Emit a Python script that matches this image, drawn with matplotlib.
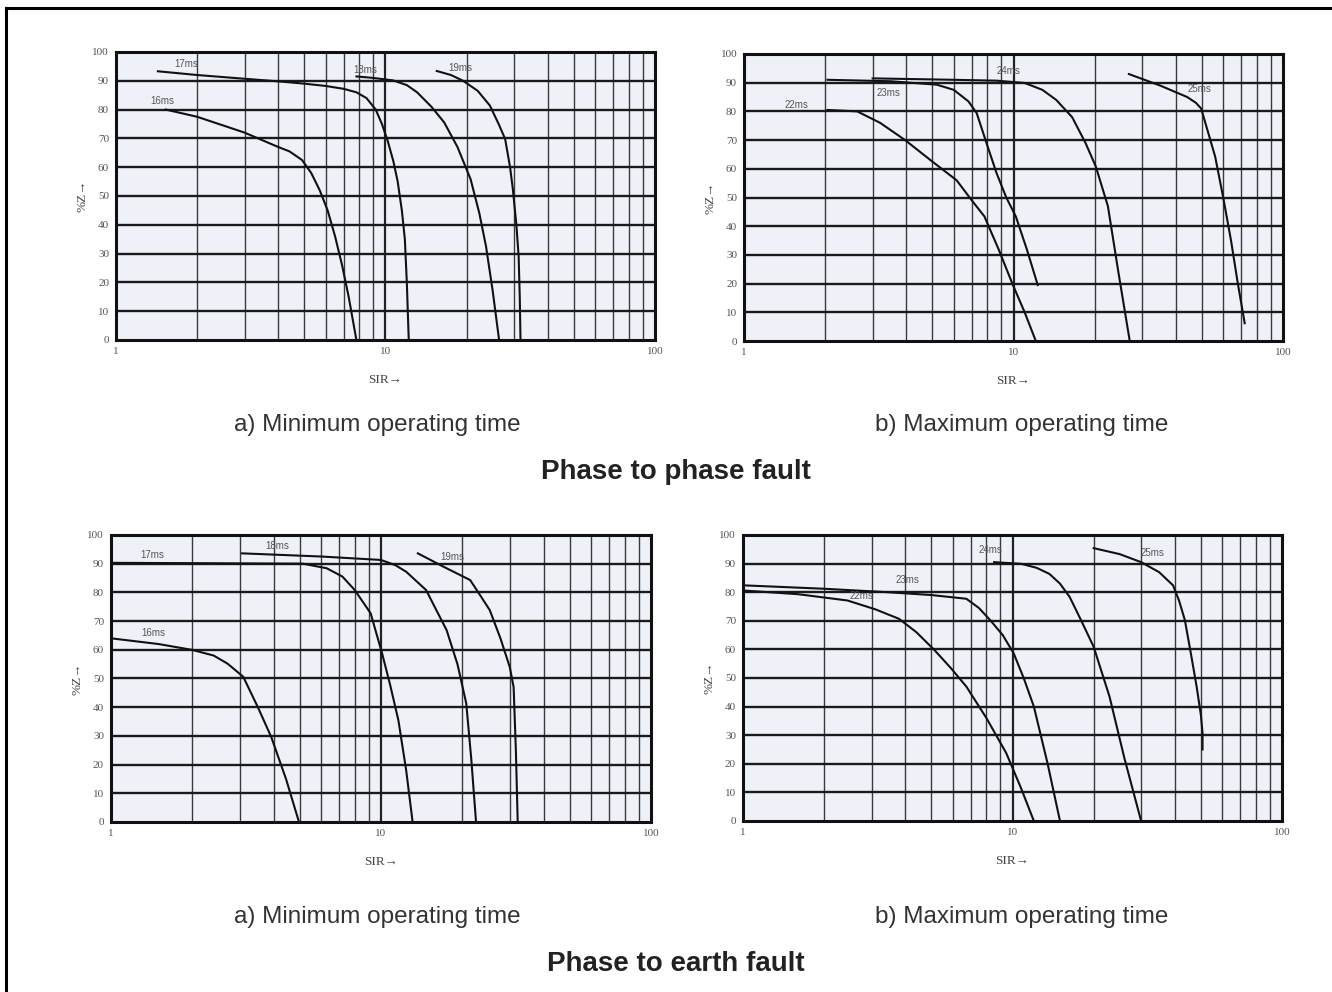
# Relay operating time characteristics (%Z vs SIR), four panels
import matplotlib
matplotlib.use("Agg")
from matplotlib import pyplot as plt
from matplotlib.lines import Line2D

# Data: SIR (x, log scale) and %Z (y)

# a) phase to phase, minimum operating time
pp_min_16_x = [1.53, 2, 3, 4, 4.4, 4.9, 5.3, 5.7, 6.1, 6.5, 6.9, 7.3, 7.8]
pp_min_16_y = [80, 77.5, 72, 67, 65.5, 62.5, 58, 52, 45, 36, 26, 15, 0]
pp_min_17_x = [1.43, 2, 3, 4, 5, 6, 7, 7.8, 8.5, 9.2, 9.7, 10.2, 10.7, 11.1, 11.5, 11.8, 12.0, 12.2]
pp_min_17_y = [93.3, 92, 90.7, 89.8, 89, 88.2, 87.2, 86, 84, 80, 75, 69, 62, 55, 45, 35, 20, 0]
pp_min_18_x = [7.8, 9, 10.7, 12, 13.1, 14.8, 16.5, 18.5, 20.7, 22.3, 23.6, 25, 26.4]
pp_min_18_y = [91.5, 91, 90.1, 88.5, 86, 81, 75.6, 67, 55.8, 44, 32.6, 17, 0]
pp_min_19_x = [15.5, 17.5, 19.4, 22, 24.4, 26.3, 27.8, 29, 29.7, 30.6, 31.2, 31.5, 31.7]
pp_min_19_y = [93.4, 92, 90, 86.5, 81.4, 75, 69.8, 60, 52.3, 40, 29, 15, 0]

# b) phase to phase, maximum operating time
pp_max_22_x = [2.04, 2.63, 3.2, 3.96, 5, 6.15, 7, 7.8, 8.8, 9.9, 11, 12.1]
pp_max_22_y = [80.5, 80, 76, 70, 62.5, 56, 49, 43.4, 32, 20, 10, 0]
pp_max_23_x = [2.04, 3.5, 5.19, 6, 6.8, 7.3, 8, 8.65, 9.4, 10.2, 11.2, 12.3]
pp_max_23_y = [91, 90.5, 89.3, 87.5, 83.5, 79.4, 68, 58.5, 50, 43.4, 32, 19.5]
pp_max_24_x = [3, 6, 8.65, 11, 12.8, 14.4, 16.5, 18.5, 20.2, 22.4, 24.5, 27]
pp_max_24_y = [91.5, 91, 90.7, 89.9, 87.5, 84, 78, 69, 60.8, 47, 24, 0]
pp_max_25_x = [26.8, 35, 44.1, 47.5, 49.7, 53, 56, 60, 64.1, 68, 72.1]
pp_max_25_y = [93, 89, 85, 83, 81, 72, 64.3, 50, 35.2, 20, 6.2]

# a) phase to earth, minimum operating time
pe_min_16_x = [1, 1.5, 1.99, 2.4, 2.7, 3.09, 3.5, 3.92, 4.45, 4.97]
pe_min_16_y = [64, 62, 60, 58, 55.2, 50.6, 40, 29.7, 15, 0]
pe_min_17_x = [1, 5.14, 6.3, 7.2, 8.0, 9.16, 10.1, 10.8, 11.6, 12.4, 13.1]
pe_min_17_y = [90.3, 90, 88.4, 85.5, 80.8, 72.7, 58.7, 48, 35.5, 18, 0]
pe_min_18_x = [3.06, 6, 10, 11.3, 12.4, 14.7, 16, 17.5, 19.2, 20.7, 21.6, 22.5]
pe_min_18_y = [93.6, 92.5, 91.3, 89.5, 87.2, 80.8, 74, 66.9, 55, 41.3, 22, 0]
pe_min_19_x = [13.7, 17, 21.4, 23.3, 25.3, 27.7, 30, 31, 31.6, 32.1]
pe_min_19_y = [93.6, 89, 84.3, 79, 73.8, 64, 54, 47, 25, 0]

# b) phase to earth, maximum operating time
pe_max_22_x = [1, 1.6, 2.44, 3.1, 3.79, 4.4, 5.14, 5.9, 6.74, 8, 9.47, 10.7, 12]
pe_max_22_y = [80.6, 79.3, 77.1, 74, 70.7, 66, 59.7, 53.5, 47, 36, 23.8, 12, 0]
pe_max_23_x = [1, 2, 3.43, 5, 6.74, 7.5, 8.27, 9.2, 10.1, 11, 12, 13.5, 15]
pe_max_23_y = [82.4, 81.2, 80, 79, 77.7, 74.5, 70.2, 65, 58.6, 50, 40, 20, 0]
pe_max_24_x = [8.55, 10.8, 12.3, 13.7, 15, 16.3, 18, 20, 22.9, 26, 30]
pe_max_24_y = [90.5, 89.9, 88.5, 86.4, 83, 78.3, 70, 60.9, 43.5, 22, 0]
pe_max_25_x = [20, 25, 30, 35, 39.4, 41.5, 43.6, 46, 48.2, 50, 50.7, 50.7]
pe_max_25_y = [95.4, 93.3, 90.5, 87, 82.4, 77, 70.2, 58, 47, 37, 30.7, 25]

# curve labels: text, x, y
pp_min_labels = [("17ms", 1.82, 95.8), ("16ms", 1.48, 83), ("18ms", 8.4, 93.8), ("19ms", 18.9, 94.4)]
pp_max_labels = [("22ms", 1.57, 82.3), ("23ms", 3.45, 86.4), ("24ms", 9.6, 94), ("25ms", 48.8, 87.8)]
pe_min_labels = [("17ms", 1.42, 93), ("16ms", 1.43, 65.9), ("18ms", 4.13, 96.2), ("19ms", 18.3, 92.3)]
pe_max_labels = [("24ms", 8.3, 94.7), ("23ms", 4.06, 84.3), ("22ms", 2.76, 78.7), ("25ms", 33.1, 93.7)]

x_ticks = [1, 10, 100]
x_tick_labels = ["1", "10", "100"]
y_ticks = [0, 10, 20, 30, 40, 50, 60, 70, 80, 90, 100]
minor_x = [2, 3, 4, 5, 6, 7, 8, 9, 20, 30, 40, 50, 60, 70, 80, 90]

fig = plt.figure(figsize=(13.32, 9.92), dpi=100)
fig.patch.set_facecolor("white")

# outer frame (top and left visible)
fig.add_artist(Line2D([0.0045, 1.0], [0.992, 0.992], color="black", lw=2.2, transform=fig.transFigure))
fig.add_artist(Line2D([0.0045, 0.0045], [0.0, 0.992], color="black", lw=2.2, transform=fig.transFigure))


def draw_panel(rect, curves, labels):
    ax = fig.add_axes(rect)
    ax.set_facecolor("#eef2f8")
    ax.set_xscale("log")
    ax.set_xlim(1, 100)
    ax.set_ylim(0, 100)

    for v in minor_x:
        ax.axvline(v, color="#3a3a3a", lw=1.0, zorder=1)
    ax.axvline(10, color="#222222", lw=1.6, zorder=1)
    for v in y_ticks[1:-1]:
        ax.axhline(v, color="#1a1a1a", lw=1.7, zorder=1)

    for xs, ys in curves:
        ax.plot(xs, ys, color="#111111", lw=1.5, zorder=3, solid_joinstyle="round")
    for text, lx, ly in labels:
        ax.text(lx, ly, text, fontsize=7, color="#555555", ha="center", va="center",
                family="Liberation Sans", zorder=4)

    ax.set_xticks(x_ticks)
    ax.set_xticklabels(x_tick_labels)
    ax.xaxis.set_minor_locator(matplotlib.ticker.NullLocator())
    ax.set_yticks(y_ticks)
    ax.tick_params(length=0, labelsize=8, labelcolor="#555555", pad=5)
    for lab in ax.get_xticklabels() + ax.get_yticklabels():
        lab.set_family("Liberation Serif")
    for s in ax.spines.values():
        s.set_linewidth(2.2)
        s.set_color("#111111")
    ax.set_xlabel("SIR→", fontsize=9.5, color="#444444", family="Liberation Serif", labelpad=13)
    ax.set_ylabel("%Z→", fontsize=9.5, color="#444444", family="Liberation Serif", labelpad=3)
    return ax


draw_panel([0.0871, 0.6573, 0.4046, 0.2903],
           [(pp_min_16_x, pp_min_16_y), (pp_min_17_x, pp_min_17_y),
            (pp_min_18_x, pp_min_18_y), (pp_min_19_x, pp_min_19_y)], pp_min_labels)
draw_panel([0.5586, 0.6562, 0.4046, 0.2894],
           [(pp_max_22_x, pp_max_22_y), (pp_max_23_x, pp_max_23_y),
            (pp_max_24_x, pp_max_24_y), (pp_max_25_x, pp_max_25_y)], pp_max_labels)
draw_panel([0.0833, 0.1714, 0.4054, 0.2893],
           [(pe_min_16_x, pe_min_16_y), (pe_min_17_x, pe_min_17_y),
            (pe_min_18_x, pe_min_18_y), (pe_min_19_x, pe_min_19_y)], pe_min_labels)
draw_panel([0.5578, 0.1724, 0.4047, 0.2883],
           [(pe_max_22_x, pe_max_22_y), (pe_max_23_x, pe_max_23_y),
            (pe_max_24_x, pe_max_24_y), (pe_max_25_x, pe_max_25_y)], pe_max_labels)

sub_kw = dict(fontsize=17.5, color="#333333", ha="center", va="center", family="Liberation Sans")
fig.text(377 / 1332, 1 - 425 / 992, "a) Minimum operating time", **sub_kw)
fig.text(1022 / 1332, 1 - 425 / 992, "b) Maximum operating time", **sub_kw)
fig.text(377 / 1332, 1 - 917 / 992, "a) Minimum operating time", **sub_kw)
fig.text(1022 / 1332, 1 - 917 / 992, "b) Maximum operating time", **sub_kw)

title_kw = dict(fontsize=20, color="#222222", ha="center", va="center",
                family="Liberation Sans", weight="bold")
fig.text(676 / 1332, 1 - 472 / 992, "Phase to phase fault", **title_kw)
fig.text(676 / 1332, 1 - 964 / 992, "Phase to earth fault", **title_kw)

fig.savefig("out.png", dpi=100)
